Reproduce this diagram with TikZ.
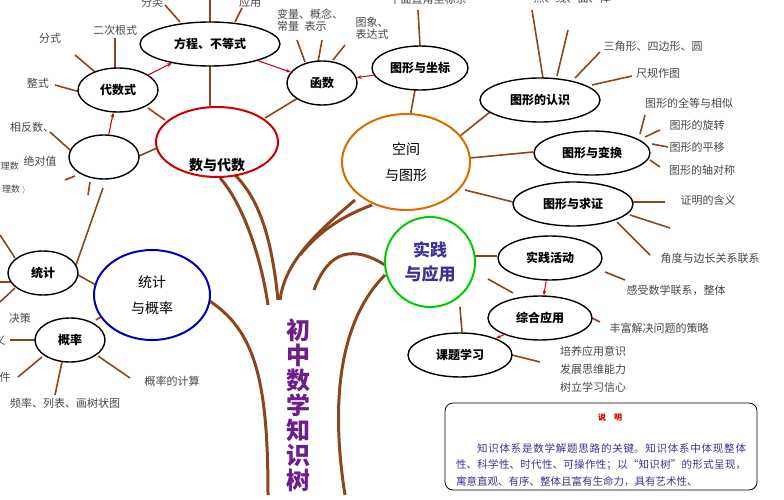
\documentclass[tikz,border=0pt]{standalone}
\usepackage{fontspec}
\setmainfont{Noto Sans CJK SC}
\XeTeXlinebreaklocale "zh"
\XeTeXlinebreakskip=0pt plus 1pt
\usetikzlibrary{arrows.meta}
\definecolor{br}{RGB}{140,70,30}
\definecolor{txt}{RGB}{70,70,70}
\definecolor{ttl}{RGB}{110,30,140}
\definecolor{bl}{RGB}{60,50,150}
\tikzset{
 ov/.style={draw=black,line width=1.4pt,ellipse,fill=white,font=\fontsize{12}{12}\selectfont\bfseries},
 big/.style={line width=2pt,fill=white},
 tw/.style={draw=br,line width=1.6pt},
 tr/.style={draw=br,line width=3pt},
 ar/.style={draw=red!80!black,line width=1pt,-{Stealth[length=5pt]}},
 lb/.style={text=txt,font=\fontsize{11}{12}\selectfont,inner sep=0pt,align=left},
}
\usetikzlibrary{shapes.geometric}
\begin{document}
\begin{tikzpicture}[x=1pt,y=-1pt]
\useasboundingbox (0,0) rectangle (784,500);
\clip (0,0) rectangle (784,500);
% trunk
\draw[tr] (268,495) .. controls (268,380) and (255,330) .. (208,300);
\draw[tr] (278,300) .. controls (272,240) and (260,200) .. (235,175);
\draw[tr] (268,305) .. controls (260,250) and (240,200) .. (220,178);
\draw[tr] (345,495) .. controls (330,400) and (340,320) .. (385,275);
\draw[tr] (314,290) .. controls (325,260) and (345,240) .. (385,265);
\draw[tr] (280,300) .. controls (285,260) and (320,230) .. (355,200);
\draw[tr] (300,255) .. controls (320,230) and (345,215) .. (372,205);
% twigs
\draw[tw] (210,66)--(210,106); \draw[tw] (180,22)--(165,5); \draw[tw] (210,22)--(210,0); \draw[tw] (235,22)--(242,8);
\draw[tw] (75,55)--(95,72); \draw[tw] (115,38)--(115,68); \draw[tw] (55,85)--(80,92); \draw[tw] (148,108)--(165,120);
\draw[tw] (297,40)--(305,62); \draw[tw] (322,40)--(318,62); \draw[tw] (345,45)--(333,60); \draw[tw] (298,98)--(265,118);
\draw[tw] (50,132)--(70,150); \draw[tw] (65,180)--(75,176); \draw[tw] (90,182)--(88,195); \draw[tw] (139,156)--(157,148); \draw[tw] (103,188)--(76,265);
\draw[tw] (0,235)--(15,258); \draw[tw] (0,282)--(10,282); \draw[tw] (15,288)--(0,302); \draw[tw] (78,275)--(96,285);
\draw[tw] (10,340)--(35,340); \draw[tw] (18,377)--(42,357); \draw[tw] (55,395)--(62,362); \draw[tw] (98,356)--(130,378); \draw[tw] (96,320)--(108,312);
\draw[tw] (420,46)--(418,10); \draw[tw] (415,90)--(408,128);
\draw[tw] (543,78)--(532,10); \draw[tw] (557,76)--(568,30); \draw[tw] (575,78)--(600,52); \draw[tw] (592,85)--(632,76); \draw[tw] (490,112)--(455,140);
\draw[tw] (640,134)--(645,115); \draw[tw] (645,137)--(660,130); \draw[tw] (652,144)--(668,147); \draw[tw] (650,160)--(660,167); \draw[tw] (533,152)--(470,158);
\draw[tw] (633,202)--(665,202); \draw[tw] (630,215)--(670,228); \draw[tw] (617,222)--(650,255); \draw[tw] (513,202)--(465,190);
\draw[tw] (497,256)--(474,256); \draw[tw] (605,272)--(625,280);
\draw[tw] (488,279)--(513,293); \draw[tw] (592,318)--(600,322);
\draw[tw] (460,307)--(462,332); \draw[tw] (512,355)--(540,362);
% big nodes
\node[big,draw=red!80!black,ellipse,minimum width=122,minimum height=70] (sd) at (217,142) {};
\node[font=\fontsize{14}{14}\selectfont\bfseries] (sdt) at (217,165) {数与代数};
\node[big,draw=orange!85!black,ellipse,minimum width=128,minimum height=96,align=center,font=\fontsize{14}{26}\selectfont] (kj) at (406,162) {空间\\与图形};
\node[big,draw=green!80!black,circle,minimum size=90,align=center,text=bl,font=\fontsize{17}{24}\selectfont\bfseries] (sj) at (430,262) {实践\\与应用};
\node[big,draw=blue!70!black,ellipse,minimum width=116,minimum height=90,align=center,font=\fontsize{14}{26}\selectfont] (tg) at (152,295) {统计\\与概率};
% small nodes
\node[ov,minimum width=140,minimum height=44] (fc) at (210,44) {方程、不等式};
\node[ov,minimum width=80,minimum height=44] (ds) at (118,90) {代数式};
\node[ov,minimum width=70,minimum height=44] (hs) at (322,83) {函数};
\node[ov,minimum width=70,minimum height=44] (bk) at (104,157) {};
\node[ov,minimum width=96,minimum height=44] (zb) at (420,68) {图形与坐标};
\node[ov,minimum width=120,minimum height=44] (rs) at (540,100) {图形的认识};
\node[ov,minimum width=116,minimum height=44] (bh) at (592,153) {图形与变换};
\node[ov,minimum width=120,minimum height=44] (qz) at (573,204) {图形与求证};
\node[ov,minimum width=104,minimum height=44] (hd) at (550,258) {实践活动};
\node[ov,minimum width=104,minimum height=44] (zh) at (540,318) {综合应用};
\node[ov,minimum width=104,minimum height=44] (kt) at (460,355) {课题学习};
\node[ov,minimum width=70,minimum height=44] (tj) at (43,273) {统计};
\node[ov,minimum width=70,minimum height=44] (gl) at (70,340) {概率};
% arrows
\draw[ar] (ds) -- (fc); \draw[ar] (fc) -- (hs); \draw[ar] (zb) -- (hs); \draw[ar] (bk) -- (ds);
\draw[ar] (hd) -- (zh); \draw[ar] (zh) -- (kt);
% labels
\node[lb] (l1) at (152,2) {分类}; \node[lb] (l2) at (250,2) {应用};
\node[lb] (l3) at (50,38) {分式}; \node[lb] (l4) at (115,30) {二次根式}; \node[lb] (l5) at (38,83) {整式};
\node[lb] (l6) at (310,20) {变量、概念、\\常量\enspace 表示};
\node[lb] (l7) at (372,28) {图象、\\表达式};
\node[lb] (l8) at (32,127) {相反数、}; \node[lb] (l9) at (40,161) {绝对值};
\node[lb,font=\fontsize{9}{10}\selectfont] (l10) at (10,166) {理数}; \node[lb,font=\fontsize{9}{10}\selectfont] (l11) at (14,190) {理数 $\rangle$};
\node[lb] (l12) at (20,318) {决策}; \node[lb] (l13) at (0,340) {义}; \node[lb] (l14) at (5,377) {件};
\node[lb] (l15) at (65,403) {频率、列表、画树状图}; \node[lb] (l16) at (172,381) {概率的计算};
\node[lb] (l17) at (428,-1) {平面直角坐标系}; \node[lb] (l18) at (572,-2) {点、线、面、体};
\node[lb] (l19) at (653,46) {三角形、四边形、圆}; \node[lb] (l20) at (658,73) {尺规作图};
\node[lb] (l21) at (689,103) {图形的全等与相似}; \node[lb] (l22) at (697,125) {图形的旋转};
\node[lb] (l23) at (697,147) {图形的平移}; \node[lb] (l24) at (702,170) {图形的轴对称};
\node[lb] (l25) at (708,200) {证明的含义}; \node[lb] (l26) at (710,258) {角度与边长关系联系};
\node[lb] (l27) at (676,290) {感受数学联系，整体}; \node[lb] (l28) at (659,328) {丰富解决问题的策略};
\node[lb,align=left,font=\fontsize{11}{18}\selectfont] (l29) at (593,369) {培养应用意识\\发展思维能力\\树立学习信心};
% title
\node[text=ttl,font=\fontsize{24}{25}\selectfont\bfseries,align=center] (title) at (298,405) {初\\中\\数\\学\\知\\识\\树};
% box
\draw[rounded corners=8pt,line width=0.8pt] (445,403) rectangle (757,490);
\node[text=red!80!black,font=\fontsize{8}{10}\selectfont\bfseries] (sm) at (610,417) {说\quad 明};
\node[text=bl,font=\fontsize{10.5}{16.5}\selectfont,align=justify,text width=290] (bt) at (601,465) {\hspace*{2em}知识体系是数学解题思路的关键。知识体系中体现整体性、科学性、时代性、可操作性；以“知识树”的形式呈现，寓意直观、有序、整体且富有生命力，具有艺术性、};
\end{tikzpicture}
\end{document}
